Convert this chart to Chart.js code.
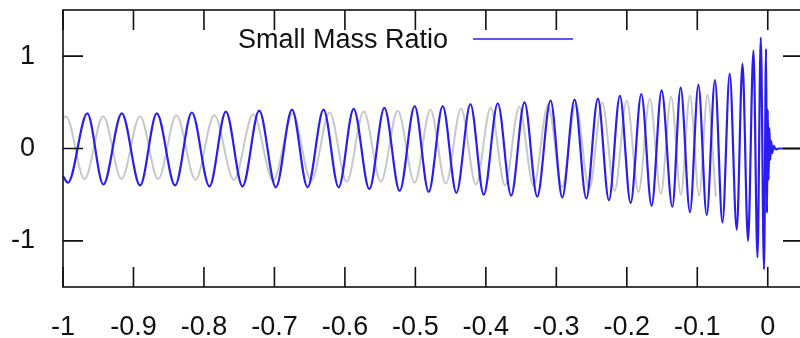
<!DOCTYPE html>
<html>
<head>
<meta charset="utf-8">
<script src="https://cdn.jsdelivr.net/npm/chart.js@4.4.1/dist/chart.umd.min.js"></script>
<style>
  html, body { margin: 0; padding: 0; background: #fff; overflow: hidden; }
  #wrap { width: 800px; height: 338px; overflow: hidden; }
</style>
</head>
<body>
<div id="wrap"><canvas id="waveCanvas" width="806" height="338"></canvas></div>
<script>
// Du lieu doc tu hinh: cac diem cuc dai / cuc tieu cua song xanh (Small Mass Ratio)
const blueX = [
  -1.0, -0.9929, -0.9655, -0.9428, -0.9166, -0.8906, -0.8669, -0.8409, -0.8172, -0.7922,
  -0.7689, -0.7453, -0.7216, -0.6979, -0.6751, -0.6530, -0.6303, -0.6089, -0.5876, -0.5653,
  -0.5440, -0.5223, -0.5010, -0.4811, -0.4612, -0.4418, -0.4219, -0.4030, -0.3831, -0.3641,
  -0.3452, -0.3271, -0.3082, -0.2916, -0.2741, -0.2575, -0.2410, -0.2254, -0.2098, -0.1946,
  -0.1794, -0.1648, -0.1506, -0.1354, -0.1236, -0.1104, -0.0984, -0.0866, -0.0749, -0.0643,
  -0.0540, -0.0440, -0.0359, -0.0280, -0.0203, -0.0146, -0.0099, -0.0053, -0.0024, -0.0011,
  0.0000, 0.0011, 0.0023, 0.0036, 0.0050, 0.0064, 0.0085, 0.0114, 0.0156, 0.05
];
const blueY = [
  -0.30, -0.37, 0.38, -0.39, 0.38, -0.40, 0.38, -0.40, 0.39, -0.41,
  0.40, -0.41, 0.41, -0.42, 0.42, -0.42, 0.42, -0.42, 0.43, -0.44,
  0.44, -0.46, 0.46, -0.47, 0.46, -0.48, 0.48, -0.50, 0.49, -0.51,
  0.50, -0.52, 0.52, -0.53, 0.53, -0.54, 0.54, -0.56, 0.57, -0.59,
  0.59, -0.62, 0.63, -0.63, 0.66, -0.69, 0.69, -0.72, 0.74, -0.80,
  0.81, -0.88, 0.92, -1.00, 1.06, -1.18, 1.20, -1.31, 1.08, -0.70,
  0.42, -0.34, 0.22, -0.12, 0.08, -0.05, 0.03, -0.01, 0.0, 0.0
];

// Song xam phia sau (khong co trong chu thich)
const grayX = [
  -1.0, -0.9957, -0.9695, -0.9430, -0.9170, -0.8908, -0.8649, -0.8391, -0.8119, -0.7854,
  -0.7575, -0.7301, -0.7017, -0.6743, -0.6477, -0.6217, -0.5974, -0.5733, -0.5489, -0.5251,
  -0.5010, -0.4787, -0.4568, -0.4352, -0.4141, -0.3932, -0.3729, -0.3527, -0.3322, -0.3119,
  -0.2919, -0.2724, -0.2533, -0.2348, -0.2173, -0.2001, -0.1834, -0.1673, -0.1517, -0.1371,
  -0.1233, -0.1105, -0.0974, -0.0855, -0.0737
];
const grayY = [
  0.33, 0.35, -0.33, 0.35, -0.33, 0.35, -0.33, 0.36, -0.34, 0.36,
  -0.34, 0.37, -0.35, 0.38, -0.35, 0.39, -0.36, 0.40, -0.36, 0.41,
  -0.37, 0.42, -0.38, 0.43, -0.39, 0.44, -0.40, 0.45, -0.41, 0.47,
  -0.42, 0.48, -0.44, 0.50, -0.46, 0.52, -0.47, 0.54, -0.49, 0.56,
  -0.50, 0.57, -0.51, 0.58, -0.52
];

const xTickValues = [-1, -0.9, -0.8, -0.7, -0.6, -0.5, -0.4, -0.3, -0.2, -0.1, 0];
const yTickValues = [-1, 0, 1];
const legendLabel = 'Small Mass Ratio';

const blueColor = 'rgb(42, 30, 238)';
const grayColor = 'rgb(200, 200, 200)';
const fontFamily = '"Liberation Sans", Arial, Helvetica, sans-serif';
const tickLen = 20;

// Ghep x, y thanh mang diem
var toPoints = (xs, ys) => {
  let points = [];
  for (let i = 0; i < xs.length; i++) {
    points.push({ x: xs[i], y: ys[i] });
  }
  return points;
}

var formatTick = (value) => {
  let v = Math.round(value * 10) / 10;
  return String(v);
}

// Khung, vach chia huong vao trong va chu thich
var framePlugin = {
  id: 'frame',
  afterDraw(chart) {
    let ctx = chart.ctx;
    let area = chart.chartArea;
    let xScale = chart.scales.x;
    let yScale = chart.scales.y;
    ctx.save();
    ctx.strokeStyle = '#111';
    ctx.lineWidth = 1.6;
    ctx.strokeRect(area.left, area.top, area.right - area.left, area.bottom - area.top);
    ctx.beginPath();
    for (let i = 0; i < xTickValues.length; i++) {
      let px = xScale.getPixelForValue(xTickValues[i]);
      ctx.moveTo(px, area.bottom);
      ctx.lineTo(px, area.bottom - tickLen);
      ctx.moveTo(px, area.top);
      ctx.lineTo(px, area.top + tickLen);
    }
    for (let i = 0; i < yTickValues.length; i++) {
      let py = yScale.getPixelForValue(yTickValues[i]);
      ctx.moveTo(area.left, py);
      ctx.lineTo(area.left + tickLen, py);
      ctx.moveTo(area.right, py);
      ctx.lineTo(area.right - tickLen, py);
    }
    ctx.stroke();

    // chu thich: chu ben trai, doan thang ben phai
    ctx.font = '27px ' + fontFamily;
    ctx.fillStyle = '#111';
    ctx.textAlign = 'right';
    ctx.textBaseline = 'middle';
    ctx.fillText(legendLabel, 448, 41);
    ctx.strokeStyle = blueColor;
    ctx.lineWidth = 1.6;
    ctx.beginPath();
    ctx.moveTo(473, 39);
    ctx.lineTo(573, 39);
    ctx.stroke();
    ctx.restore();
  }
};

var drawWaveChart = () => {
  let canvas = document.getElementById('waveCanvas');
  let config = {
    type: 'line',
    data: {
      datasets: [
        {
          label: legendLabel,
          data: toPoints(blueX, blueY),
          borderColor: blueColor,
          borderWidth: 2.2,
          pointRadius: 0,
          cubicInterpolationMode: 'monotone',
          order: 0
        },
        {
          label: 'reference',
          data: toPoints(grayX, grayY),
          borderColor: grayColor,
          borderWidth: 2,
          pointRadius: 0,
          cubicInterpolationMode: 'monotone',
          order: 1
        }
      ]
    },
    options: {
      responsive: false,
      animation: false,
      events: [],
      layout: { padding: { top: 10, right: 3, left: 0, bottom: 0 } },
      plugins: { legend: { display: false }, tooltip: { enabled: false } },
      scales: {
        x: {
          type: 'linear',
          min: -1,
          max: 0.05,
          grid: { display: false, drawTicks: false },
          border: { display: false },
          afterBuildTicks: (scale) => { scale.ticks = xTickValues.map(v => ({ value: v })); },
          afterFit: (scale) => {
            scale.height = 51;
            scale.paddingLeft = 0;
            scale.paddingRight = 0;
          },
          ticks: {
            color: '#111',
            padding: 24,
            maxRotation: 0,
            autoSkip: false,
            font: { family: fontFamily, size: 27 },
            callback: (value) => formatTick(value)
          }
        },
        y: {
          type: 'linear',
          min: -1.5,
          max: 1.5,
          grid: { display: false, drawTicks: false },
          border: { display: false },
          afterBuildTicks: (scale) => { scale.ticks = yTickValues.map(v => ({ value: v })); },
          afterFit: (scale) => {
            scale.width = 63;
            scale.paddingTop = 0;
            scale.paddingBottom = 0;
          },
          ticks: {
            color: '#111',
            padding: 28,
            font: { family: fontFamily, size: 27 },
            callback: (value) => formatTick(value)
          }
        }
      }
    },
    plugins: [framePlugin]
  };
  return new Chart(canvas, config);
}

drawWaveChart();
</script>
</body>
</html>
